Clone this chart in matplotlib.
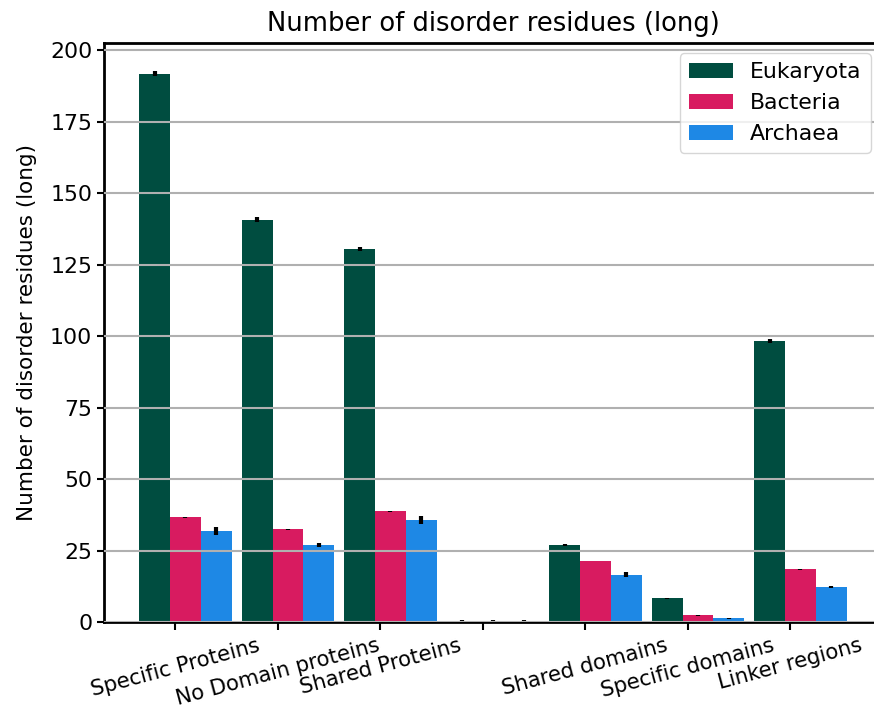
import numpy as np
import matplotlib
matplotlib.use("Agg")
import matplotlib.pyplot as plt

categories = ["Specific Proteins", "No Domain proteins", "Shared Proteins", "",
              "Shared domains", "Specific domains", "Linker regions"]
groups = ["Eukaryota", "Bacteria", "Archaea"]
eukaryota = [191.8, 140.7, 130.5, 0.0, 26.9, 8.4, 98.3]
bacteria = [36.7, 32.5, 38.8, 0.0, 21.3, 2.4, 18.5]
archaea = [31.9, 27.0, 35.7, 0.0, 16.6, 1.4, 12.3]
eukaryota_err = [1.0, 0.8, 0.8, 0.8, 0.3, 0.2, 0.7]
bacteria_err = [0.2, 0.2, 0.2, 0.8, 0.1, 0.1, 0.1]
archaea_err = [1.4, 0.8, 1.5, 0.8, 0.9, 0.2, 0.5]
colors = ["#004d40", "#d81b60", "#1e88e5"]

plt.rcParams['font.family'] = "DejaVu Sans"
plt.rcParams['font.size'] = 15.5

fig = plt.figure(figsize=(8.74, 7.11), dpi=100)
# axes runs a little past the right edge of the figure (clipped in the original)
ax = fig.add_axes([0.119, 0.125, 0.890, 0.8145])

x = np.arange(len(categories))
w = 0.3
series = [(eukaryota, eukaryota_err), (bacteria, bacteria_err), (archaea, archaea_err)]
offsets = [-0.2, 0.1, 0.4]
for (vals, errs), off, col, name in zip(series, offsets, colors, groups):
    ax.bar(x + off, vals, width=w, color=col, label=name,
           yerr=errs, error_kw=dict(ecolor="black", elinewidth=3, capsize=0))

ax.set_xlim(-0.695, 6.895)
ax.set_ylim(0, 202.5)
ax.set_xticks(x)
ax.set_xticklabels(categories, rotation=15, ha="center", fontsize=15.2)
ax.set_yticks([0, 25, 50, 75, 100, 125, 150, 175, 200])
ax.tick_params(axis="y", labelsize=15.8, width=1.5, length=5)
ax.tick_params(axis="x", width=1.5, length=6)
ax.yaxis.grid(True, color="#b0b0b0", linewidth=1.5)
ax.set_axisbelow(False)
for s in ["top", "left", "bottom"]:
    ax.spines[s].set_linewidth(2)
ax.spines["right"].set_visible(False)

ax.set_ylabel("Number of disorder residues (long)", fontsize=15.5, labelpad=9)
ax.set_title("Number of disorder residues (long)", fontsize=18.6, pad=9)
ax.legend(loc="upper right", bbox_to_anchor=(0.996, 0.925),
          bbox_transform=fig.transFigure, borderaxespad=0, fontsize=15.8)

fig.savefig("out.png", dpi=100)
